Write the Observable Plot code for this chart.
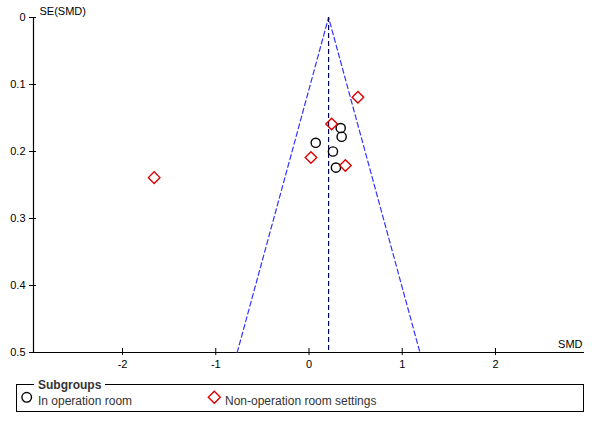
<!DOCTYPE html>
<html><head><meta charset="utf-8">
<script src="https://cdn.jsdelivr.net/npm/d3@7"></script>
<script src="https://cdn.jsdelivr.net/npm/@observablehq/plot@0.6"></script>
<style>
body{margin:0;background:#fff;font-family:"Liberation Sans",Arial,sans-serif;}
#wrap{width:600px;height:428px;position:relative;background:#fff;overflow:hidden;}
#chart{position:absolute;left:0;top:0;}
#legend{position:absolute;left:16px;top:384px;width:568px;height:28px;border:1px solid #000;box-sizing:border-box;}
#ltitle{position:absolute;left:34px;top:378px;padding:0 4px;background:#fff;font-weight:bold;font-size:12px;line-height:14px;color:#333;}
.item{position:absolute;font-size:12px;line-height:14px;color:#333;white-space:nowrap;}
.icon{position:absolute;}
</style>
</head><body>
<div id="wrap">
  <div id="chart"></div>
  <div id="legend"></div>
  <div id="ltitle">Subgroups</div>
  <svg class="icon" style="left:20px;top:391px" width="14" height="14"><circle cx="6.7" cy="6.3" r="4.8" fill="none" stroke="#000" stroke-width="1.4"/></svg>
  <div class="item" style="left:38px;top:394px">In operation room</div>
  <svg class="icon" style="left:207px;top:390px" width="16" height="16"><path d="M7.3,1.3 L13.3,7.3 L7.3,13.3 L1.3,7.3 Z" fill="none" stroke="#e00000" stroke-width="1.4"/></svg>
  <div class="item" style="left:225px;top:394px">Non-operation room settings</div>
</div>
<script>
// Subgroup: In operation room
const inRoomSMD = [0.34, 0.35, 0.072, 0.257, 0.289];
const inRoomSE  = [0.165, 0.178, 0.187, 0.200, 0.224];
// Subgroup: Non-operation room settings
const nonRoomSMD = [0.525, 0.243, 0.021, 0.39, -1.661];
const nonRoomSE  = [0.119, 0.159, 0.209, 0.221, 0.239];
// Pooled estimate and funnel limits
const pooledSMD = 0.21;
const maxSE = 0.5;
const xTicks = [-2, -1, 0, 1, 2];
const yTicks = [0, 0.1, 0.2, 0.3, 0.4, 0.5];
const xDomain = [-2.955, 2.955];

const inRoom = inRoomSMD.map((v, i) => ({smd: v, se: inRoomSE[i]}));
const nonRoom = nonRoomSMD.map((v, i) => ({smd: v, se: nonRoomSE[i]}));
const funnel = [
  {smd: pooledSMD - 1.96 * maxSE, se: maxSE},
  {smd: pooledSMD, se: 0},
  {smd: pooledSMD + 1.96 * maxSE, se: maxSE}
];

const chart = Plot.plot({
  width: 600,
  height: 376,
  marginLeft: 33,
  marginRight: 16,
  marginTop: 17,
  marginBottom: 24,
  x: {domain: xDomain, label: null},
  y: {domain: [0, maxSE], reverse: true, label: null},
  style: {fontFamily: "'Liberation Sans', Arial, sans-serif", fontSize: "11px", color: "#000", background: "#fff", overflow: "visible"},
  marks: [
    Plot.ruleY([maxSE], {stroke: "#000", strokeWidth: 1.2}),
    Plot.ruleX([xDomain[0]], {stroke: "#000", strokeWidth: 1.2}),
    Plot.axisX(xTicks, {tickSize: 7, dy: -4, tickFormat: () => "", stroke: "#000"}),
    Plot.axisX(xTicks, {tickSize: 0, tickPadding: 8, tickFormat: d => String(d), fill: "#000"}),
    Plot.axisY(yTicks, {tickSize: 7, dx: 3, tickFormat: () => "", stroke: "#000"}),
    Plot.axisY(yTicks, {tickSize: 0, tickPadding: 8, tickFormat: d => d === 0 ? "0" : d.toFixed(1), fill: "#000"}),
    Plot.text(["SE(SMD)"], {frameAnchor: "top-left", dx: 6, dy: -6, textAnchor: "start", lineAnchor: "middle", fill: "#000"}),
    Plot.text(["SMD"], {frameAnchor: "bottom-right", dx: -2, dy: -8, textAnchor: "end", lineAnchor: "middle", fill: "#000"}),
    Plot.line(funnel, {x: "smd", y: "se", stroke: "#3333ff", strokeWidth: 1.2, strokeDasharray: "5,3"}),
    Plot.ruleX([pooledSMD], {stroke: "#000050", strokeWidth: 1.2, strokeDasharray: "5,3"}),
    Plot.dot(inRoom, {x: "smd", y: "se", r: 4.6, stroke: "#000", fill: "none", strokeWidth: 1.4}),
    Plot.dot(nonRoom, {x: "smd", y: "se", symbol: "diamond2", r: 5.2, stroke: "#e00000", fill: "none", strokeWidth: 1.4})
  ]
});
document.getElementById("chart").appendChild(chart);
</script>
</body></html>
